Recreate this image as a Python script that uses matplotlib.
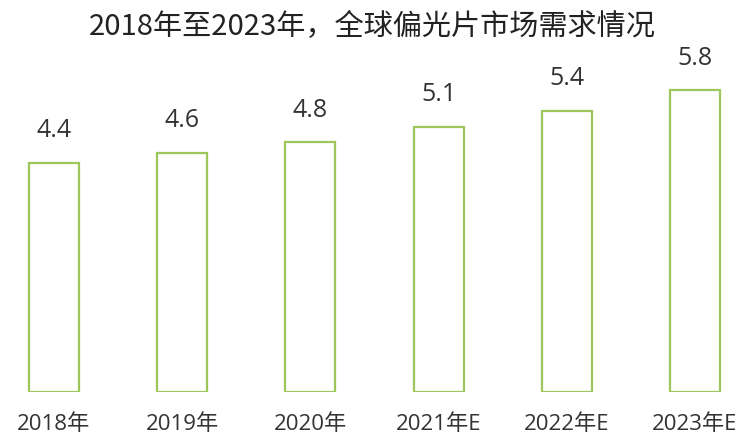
import matplotlib
matplotlib.use("Agg")
import matplotlib.pyplot as plt
import numpy as np

plt.rcParams["font.family"] = ["Open Sans", "Noto Sans CJK SC", "DejaVu Sans"]

years = ["2018年", "2019年", "2020年", "2021年E", "2022年E", "2023年E"]
demand = [4.4, 4.6, 4.8, 5.1, 5.4, 5.8]
title = "2018年至2023年，全球偏光片市场需求情况"

W, H = 747, 438
fig = plt.figure(figsize=(W / 100, H / 100), dpi=100)
ax = fig.add_axes([0, 1 - 392 / H, 1, 392 / H])

x = np.arange(len(years))
step = 128.2
ax.bar(x, demand, width=50 / step, facecolor="white",
       edgecolor="#9DC75B", linewidth=1.6)
for xi, v in zip(x, demand):
    ax.text(xi, v + 0.38, f"{v:.1f}", ha="center", va="bottom",
            fontsize=18, color="#333333")

ax.set_xlim(-54 / step, (W - 54) / step)
ax.set_ylim(0, 392 / 52)
ax.set_xticks(x)
ax.set_xticklabels(years, fontsize=16, color="#333333")
ax.tick_params(axis="x", length=0, pad=16)
ax.set_yticks([])
for s in ax.spines.values():
    s.set_visible(False)

fig.text(372 / W, 1 - 27 / H, title, ha="center", va="center",
         fontsize=21, color="#222222", family=["Noto Sans CJK SC"])

fig.savefig("out.png", dpi=100)
